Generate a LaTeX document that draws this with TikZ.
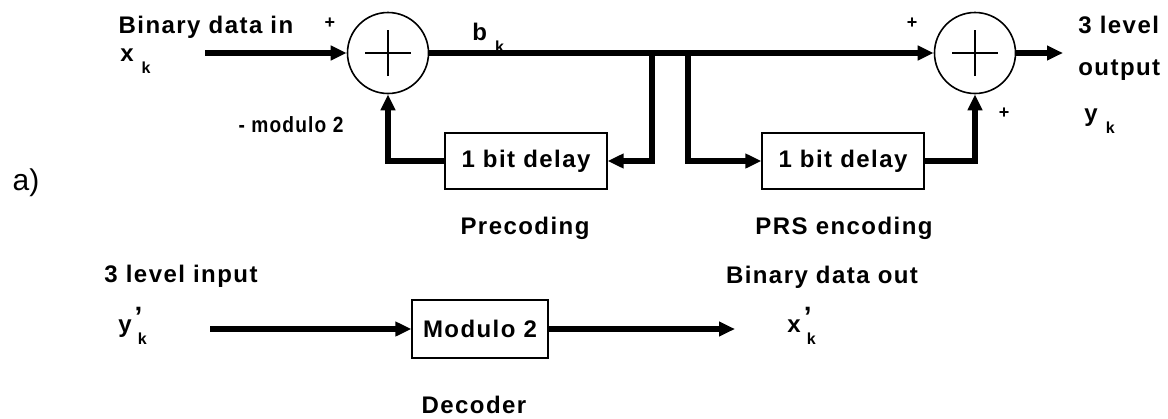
\documentclass[tikz,border=0pt]{standalone}
\usepackage{fontspec}
\usepackage{graphicx}
\usetikzlibrary{arrows.meta}
\newfontfamily\lblfont[LetterSpace=6]{Liberation Sans}
\newfontfamily\plainfont{Liberation Sans}
\newcommand{\subk}[1]{#1\hspace{4pt}\raisebox{-6pt}{\footnotesize k}}
\newcommand{\subpk}[1]{#1\hspace{1.5pt}\rlap{\raisebox{3pt}{\fontsize{14}{14}\selectfont ’}}\hspace{1.5pt}\raisebox{-6pt}{\footnotesize k}}
\newcommand{\sqz}[2]{\scalebox{#1}[1]{#2}}

\begin{document}
\begin{tikzpicture}[x=0.5pt, y=-0.5pt, >={Triangle[length=8pt,width=7pt]},
    wire/.style={line width=2.6pt},
    sum/.style={draw, circle, line width=0.8pt, minimum size=40.5pt, inner sep=0pt,
        path picture={
            \draw[line width=0.7pt] ([xshift=-11.5pt]path picture bounding box.center) -- ([xshift=11.5pt]path picture bounding box.center);
            \draw[line width=0.7pt] ([yshift=-11.5pt]path picture bounding box.center) -- ([yshift=11.5pt]path picture bounding box.center);
        }},
    blk/.style={draw, line width=0.6pt, minimum width=81pt, minimum height=28pt, inner sep=0pt, font=\lblfont\bfseries\fontsize{12}{14}\selectfont},
    lbl/.style={font=\lblfont\bfseries\fontsize{12}{14}\selectfont, inner sep=0pt},
    caplbl/.style={font=\lblfont\bfseries\fontsize{11}{13}\selectfont, inner sep=0pt},
    pls/.style={font=\plainfont\bfseries\fontsize{9}{10}\selectfont, inner sep=0pt}]
    \useasboundingbox (0,0) rectangle (1168,418);

    \node[sum] (s1) at (388,53) {};
    \node[sum] (s2) at (975,53) {};
    \node[blk] (d1) at (526,161) {1 bit delay};
    \node[blk] (d2) at (843,161) {1 bit delay};
    \node[blk, minimum width=68pt, minimum height=29pt] (m) at (480,329) {Modulo 2};

    \coordinate (xin) at (205,53);
    \coordinate (t1) at (652,53);
    \coordinate (t2) at (688,53);
    \coordinate (yout) at (1063,53);
    \coordinate (yin) at (210,329);
    \coordinate (xout) at (735,329);

    \draw[wire,->] (xin) -- (s1);
    \draw[wire,->] (s1) -- (s2);
    \draw[wire,->] (t1) |- (d1);
    \draw[wire,->] (d1) -| (s1);
    \draw[wire,->] (t2) |- (d2);
    \draw[wire,->] (d2) -| (s2);
    \draw[wire,->] (s2) -- (yout);
    \draw[wire,->] (yin) -- (m);
    \draw[wire,->] (m) -- (xout);

    \node[lbl] (tin) at (206,27) {Binary data in};
    \node[lbl, anchor=base west] (xk) at (120,61) {\subk{x}};
    \node[pls] (p1) at (330,23) {+};
    \node[caplbl] (mod) at (291,125) {\sqz{0.87}{- modulo 2}};
    \node[lbl, anchor=base west] (bk) at (472,40) {\subk{b}};
    \node[pls] (p2) at (912,23) {+};
    \node[pls] (p3) at (1004,113) {+};
    \node[lbl, anchor=west] (lev) at (1078,25) {3 level};
    \node[lbl, anchor=west] (outp) at (1078,70) {output};
    \node[lbl, anchor=base west] (yk) at (1084,121) {\subk{y}};

    \node[font=\plainfont\fontsize{15}{17}\selectfont, inner sep=0pt] (pa) at (26,183) {a)};
    \node[lbl] (pre) at (525,228) {Precoding};
    \node[lbl] (prs) at (844,228) {PRS encoding};

    \node[lbl] (lin) at (181,276) {3 level input};
    \node[lbl, anchor=base west] (ypk) at (118,332) {\subpk{y}};
    \node[lbl] (bout) at (822,277) {Binary data out};
    \node[lbl, anchor=base west] (xpk) at (787,332) {\subpk{x}};
    \node[lbl] (dec) at (474,405) {Decoder};
\end{tikzpicture}
\end{document}
